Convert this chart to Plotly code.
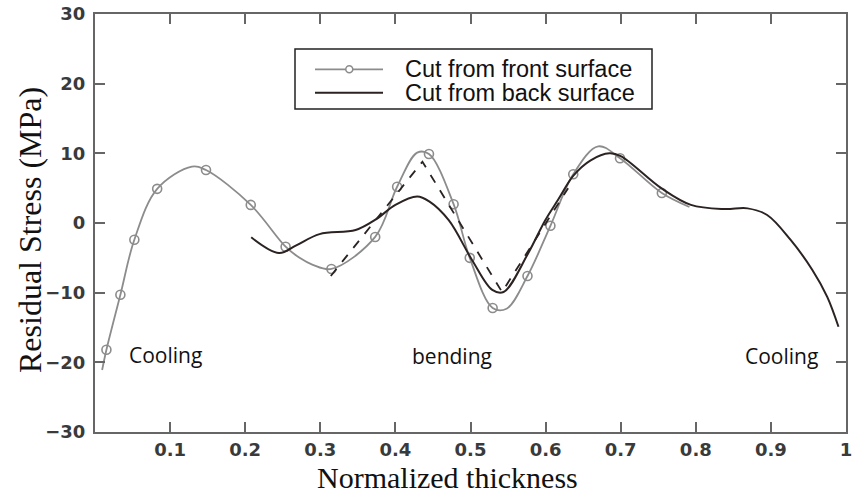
import plotly.graph_objects as go

# ---- data ----
# Cut from front surface: smooth curve and the sampled (marker) points
front_curve_x = [0.0095, 0.0152, 0.0338, 0.0524, 0.0828, 0.129, 0.1478, 0.2074, 0.2538, 0.2724,
                 0.29, 0.3148, 0.3731, 0.4023, 0.429, 0.4447, 0.4775, 0.499, 0.5295, 0.548,
                 0.5759, 0.6064, 0.6368, 0.670, 0.6991, 0.7548, 0.7915]
front_curve_y = [-21.1, -18.2, -10.3, -2.4, 4.9, 8.1, 7.6, 2.6, -3.4, -5.0,
                 -6.0, -6.6, -2.0, 5.2, 10.1, 9.9, 2.7, -5.0, -12.2, -12.3,
                 -7.6, -0.4, 7.0, 11.0, 9.3, 4.3, 2.3]
front_mark_x = [0.0152, 0.0338, 0.0524, 0.0828, 0.1478, 0.2074, 0.2538, 0.3148, 0.3731, 0.4023,
                0.4447, 0.4775, 0.499, 0.5295, 0.5759, 0.6064, 0.6368, 0.6991, 0.7548]
front_mark_y = [-18.2, -10.3, -2.4, 4.9, 7.6, 2.6, -3.4, -6.6, -2.0, 5.2,
                9.9, 2.7, -5.0, -12.2, -7.6, -0.4, 7.0, 9.3, 4.3]

# Cut from back surface
back_x = [0.208, 0.245, 0.268, 0.299, 0.347, 0.375, 0.400, 0.429, 0.445, 0.471,
          0.502, 0.529, 0.544, 0.577, 0.599, 0.617, 0.637, 0.660, 0.685, 0.700,
          0.754, 0.7935, 0.838, 0.869, 0.895, 0.926, 0.955, 0.975, 0.990]
back_y = [-2.05, -4.3, -3.2, -1.6, -1.0, 0.6, 2.6, 3.8, 3.1, 0.4,
          -5.3, -9.6, -9.9, -4.3, 0.3, 3.4, 6.8, 9.0, 10.0, 9.6,
          5.0, 2.6, 2.0, 2.1, 1.15, -2.4, -6.7, -10.6, -14.9]

# dashed guide (bending)
dash_x = [0.314, 0.436, 0.542, 0.630]
dash_y = [-7.6, 8.8, -9.9, 5.0]

x_ticks = [0.1, 0.2, 0.3, 0.4, 0.5, 0.6, 0.7, 0.8, 0.9, 1.0]
x_tick_text = ["0.1", "0.2", "0.3", "0.4", "0.5", "0.6", "0.7", "0.8", "0.9", "1"]
y_ticks = [-30, -20, -10, 0, 10, 20, 30]

labels = ["Cooling", "bending", "Cooling"]
label_x = [0.094, 0.476, 0.914]
label_y = [-19.0, -19.1, -19.1]

legend_names = ["Cut from front surface", "Cut from back surface"]

GRAY = "#8c8c8c"
DARK = "#2b2222"

L, R = 95, 7
PW = 853 - L - R

def px(xpix):
    return (xpix - L) / PW

fig = go.Figure()
fig.add_trace(go.Scatter(x=front_curve_x, y=front_curve_y, mode="lines",
                         line=dict(color=GRAY, width=1.8, shape="spline", smoothing=1.0),
                         showlegend=False, hoverinfo="skip"))
fig.add_trace(go.Scatter(x=front_mark_x, y=front_mark_y, mode="markers",
                         marker=dict(symbol="circle-open", size=9, color=GRAY,
                                     line=dict(width=1.6, color=GRAY)),
                         showlegend=False))
fig.add_trace(go.Scatter(x=dash_x, y=dash_y, mode="lines",
                         line=dict(color=DARK, width=1.8, dash="dash"),
                         showlegend=False))
fig.add_trace(go.Scatter(x=back_x, y=back_y, mode="lines",
                         line=dict(color=DARK, width=2.0, shape="spline", smoothing=1.0),
                         showlegend=False))

# manual legend (paper coordinates)
ly0, ly1 = 0.773, 0.916
shapes = [
    dict(type="rect", xref="paper", yref="paper", x0=px(295), x1=px(652), y0=ly0, y1=ly1,
         line=dict(color="#222", width=1.5), fillcolor="white", layer="below"),
    dict(type="line", xref="paper", yref="paper", x0=px(315), x1=px(383), y0=0.8677, y1=0.8677,
         line=dict(color=GRAY, width=1.8)),
    dict(type="circle", xref="paper", yref="paper", xsizemode="pixel", ysizemode="pixel",
         xanchor=px(349.3), yanchor=0.8677, x0=-3.5, x1=3.5, y0=-3.5, y1=3.5,
         line=dict(color=GRAY, width=1.5), fillcolor="white"),
    dict(type="line", xref="paper", yref="paper", x0=px(315), x1=px(383), y0=0.8117, y1=0.8117,
         line=dict(color=DARK, width=2)),
]

annotations = []
for t, yy in zip(legend_names, [0.8677, 0.8117]):
    annotations.append(dict(text=t, xref="paper", yref="paper", x=px(403), y=yy,
                            xanchor="left", yanchor="middle", showarrow=False,
                            font=dict(family="Liberation Sans", size=23.5, color="#111")))
for t, xx, yy in zip(labels, label_x, label_y):
    annotations.append(dict(text=t, x=xx, y=yy, xanchor="center", yanchor="middle",
                            showarrow=False,
                            font=dict(family="Open Sans", size=21, color="#111")))
annotations.append(dict(text="Normalized thickness", xref="paper", yref="paper",
                        x=px(447), y=-(477 - 432) / 418,
                        xanchor="center", yanchor="middle", showarrow=False,
                        font=dict(family="Liberation Serif", size=30, color="#111")))
annotations.append(dict(text="Residual Stress (MPa)", xref="paper", yref="paper",
                        x=px(30), y=(432 - 230) / 418, textangle=-90,
                        xanchor="center", yanchor="middle", showarrow=False,
                        font=dict(family="Liberation Serif", size=32, color="#111")))

tickfont = dict(family="DejaVu Sans", size=18, color="#3a3a3a", weight="bold")
axis_common = dict(showline=True, linecolor="#666", linewidth=2, mirror="ticks",
                   ticks="inside", ticklen=10, tickwidth=1.5, tickcolor="#666",
                   showgrid=False, zeroline=False, tickfont=tickfont, automargin=False,
                   ticklabeloverflow="allow")

fig.update_layout(
    width=853, height=495,
    margin=dict(l=L, r=R, t=14, b=63),
    paper_bgcolor="white", plot_bgcolor="white",
    showlegend=False,
    shapes=shapes, annotations=annotations,
    xaxis=dict(range=[0, 1], tickvals=x_ticks, ticktext=x_tick_text,
               ticklabelstandoff=0, **axis_common),
    yaxis=dict(range=[-30, 30], tickvals=y_ticks, ticklabelstandoff=4, **axis_common),
)

fig.write_html("out.html")
